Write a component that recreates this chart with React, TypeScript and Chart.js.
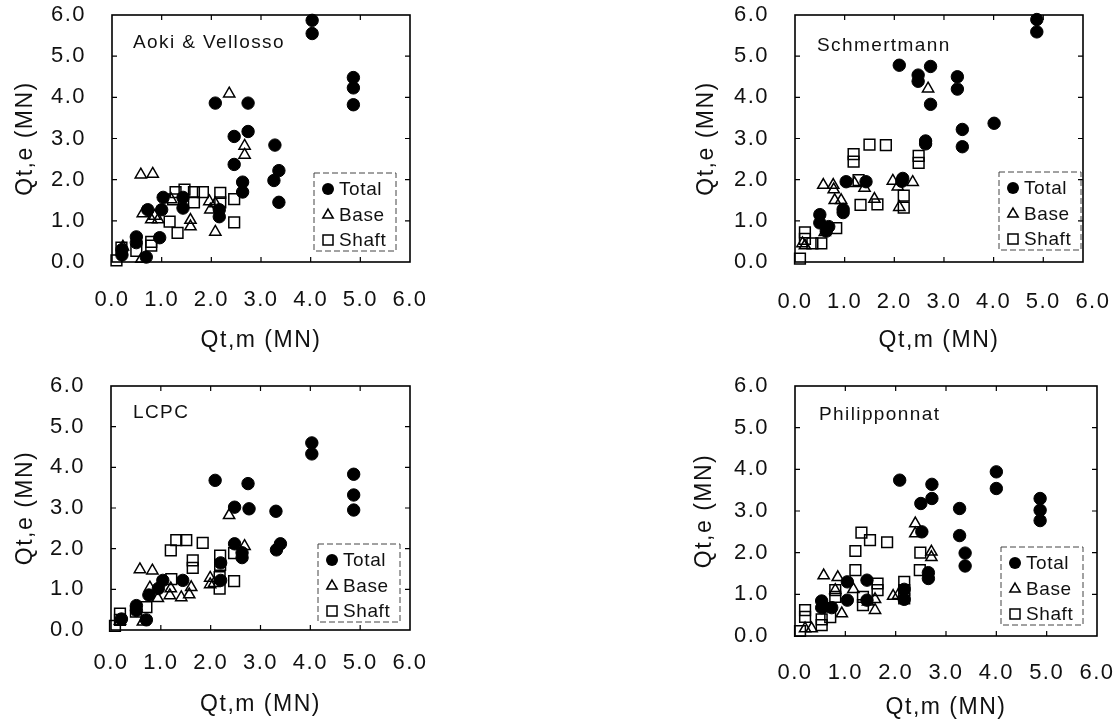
import React, { useEffect, useRef } from "react";
import { Chart, registerables } from "chart.js";

Chart.register(...registerables);

type P = [number, number];

// ---------- data ----------
const tickValues = [0, 1, 2, 3, 4, 5, 6];
const innerTickValues = [1, 2, 3, 4, 5];
const legendLabels = ["Total", "Base", "Shaft"];
const xAxisTitle = "Qt,m (MN)";
const yAxisTitle = "Qt,e (MN)";
const panelNames = ["Aoki & Vellosso", "Schmertmann", "LCPC", "Philipponnat"];

const aokiTotal: P[] = [
  [4.03, 5.87], [4.03, 5.55], [4.86, 4.48], [4.86, 4.23], [4.86, 3.82], [2.08, 3.86],
  [2.74, 3.86], [2.74, 3.17], [2.46, 3.05], [2.46, 2.37], [2.63, 1.94], [2.63, 1.7],
  [3.28, 2.84], [3.36, 2.22], [3.26, 1.98], [3.36, 1.45], [2.16, 1.27], [2.16, 1.1],
  [1.43, 1.57], [1.43, 1.31], [1.03, 1.57], [1.0, 1.27], [0.72, 1.27], [0.96, 0.59],
  [0.49, 0.61], [0.49, 0.47], [0.69, 0.12], [0.2, 0.3], [0.2, 0.17],
];
const aokiBase: P[] = [
  [2.36, 4.09], [2.67, 2.82], [2.67, 2.6], [0.58, 2.12], [0.82, 2.14], [0.62, 1.18],
  [0.79, 1.03], [0.93, 1.03], [0.86, 1.12], [1.19, 1.52], [1.58, 1.02], [1.58, 0.86],
  [2.08, 0.73], [1.96, 1.47], [1.98, 1.27], [2.08, 1.42], [0.59, 0.07], [0.22, 0.37],
];
const aokiShaft: P[] = [
  [1.46, 1.76], [1.65, 1.7], [1.83, 1.7], [1.28, 1.7], [1.23, 1.52], [1.65, 1.45],
  [2.18, 1.68], [2.18, 1.45], [2.46, 1.53], [2.46, 0.96], [1.16, 0.98], [1.32, 0.71],
  [0.79, 0.49], [0.79, 0.4], [0.49, 0.27], [0.19, 0.35], [0.09, 0.04],
];

const schTotal: P[] = [
  [4.87, 5.89], [4.87, 5.59], [2.1, 4.78], [2.48, 4.54], [2.48, 4.39], [2.73, 4.75],
  [2.73, 3.83], [3.27, 4.5], [3.27, 4.2], [3.37, 3.22], [3.37, 2.8], [4.01, 3.37],
  [2.63, 2.94], [2.63, 2.87], [2.17, 2.03], [2.15, 1.96], [1.43, 1.95], [1.03, 1.95],
  [0.97, 1.28], [0.97, 1.2], [0.5, 1.15], [0.5, 0.95], [0.68, 0.86], [0.63, 0.75],
];
const schBase: P[] = [
  [2.68, 4.21], [0.57, 1.87], [0.77, 1.87], [0.78, 1.76], [0.8, 1.5], [0.93, 1.5],
  [1.2, 1.91], [1.4, 1.8], [1.6, 1.53], [1.97, 1.97], [2.07, 1.83], [2.37, 1.94],
  [2.1, 1.33], [0.6, 0.72], [0.2, 0.4], [0.15, 0.45],
];
const schShaft: P[] = [
  [1.5, 2.85], [1.83, 2.84], [1.18, 2.62], [1.18, 2.44], [2.49, 2.58], [2.49, 2.41],
  [1.28, 1.99], [1.32, 1.39], [1.66, 1.4], [2.19, 1.61], [2.19, 1.32], [0.83, 0.82],
  [0.2, 0.72], [0.2, 0.56], [0.53, 0.45], [0.35, 0.45], [0.1, 0.08],
];

const lcpcTotal: P[] = [
  [4.03, 4.6], [4.03, 4.33], [4.87, 3.83], [4.87, 3.32], [4.87, 2.95], [2.09, 3.68],
  [2.75, 3.6], [2.48, 3.02], [2.77, 2.98], [3.31, 2.92], [2.48, 2.12], [2.63, 1.9],
  [2.63, 1.78], [3.4, 2.12], [3.32, 1.97], [2.2, 1.65], [2.2, 1.22], [1.04, 1.22],
  [1.44, 1.22], [0.95, 1.02], [0.76, 0.86], [0.51, 0.6], [0.51, 0.48], [0.71, 0.25],
  [0.21, 0.27],
];
const lcpcBase: P[] = [
  [2.37, 2.82], [0.58, 1.49], [0.83, 1.46], [2.68, 2.06], [1.99, 1.28], [1.99, 1.12],
  [2.07, 1.15], [1.61, 1.05], [1.57, 0.87], [1.41, 0.8], [1.18, 0.85], [0.78, 1.04],
  [0.94, 0.78], [1.2, 1.02], [0.64, 0.2], [0.18, 0.22],
];
const lcpcShaft: P[] = [
  [1.31, 2.21], [1.51, 2.21], [1.2, 1.96], [1.84, 2.14], [1.64, 1.71], [1.64, 1.53],
  [2.19, 1.83], [2.19, 1.6], [2.47, 1.89], [2.47, 1.2], [2.18, 1.3], [2.18, 1.02],
  [1.21, 1.25], [0.71, 0.56], [0.5, 0.45], [0.18, 0.4], [0.18, 0.25], [0.08, 0.1],
];

const phiTotal: P[] = [
  [2.08, 3.74], [2.72, 3.64], [2.72, 3.3], [2.5, 3.18], [2.52, 2.5], [3.27, 3.06],
  [3.27, 2.41], [3.38, 1.99], [3.38, 1.68], [4.0, 3.94], [4.0, 3.54], [4.87, 3.3],
  [4.87, 3.02], [4.87, 2.77], [2.65, 1.52], [2.65, 1.38], [2.17, 1.12], [2.17, 0.88],
  [1.43, 1.34], [1.43, 0.86], [1.04, 1.3], [1.04, 0.86], [0.53, 0.84], [0.53, 0.68],
  [0.73, 0.68],
];
const phiBase: P[] = [
  [2.39, 2.7], [2.39, 2.46], [2.71, 2.02], [2.71, 1.89], [0.57, 1.45], [0.85, 1.41],
  [0.8, 1.1], [1.16, 1.12], [1.59, 0.88], [1.59, 0.62], [1.95, 0.96], [2.05, 0.98],
  [0.93, 0.54], [0.2, 0.18], [0.33, 0.18], [0.6, 0.75], [1.45, 0.82],
];
const phiShaft: P[] = [
  [1.32, 2.48], [1.49, 2.3], [1.83, 2.25], [1.2, 2.04], [1.2, 1.58], [2.49, 2.0],
  [2.48, 1.58], [1.64, 1.26], [1.64, 1.1], [0.8, 1.1], [0.8, 0.94], [1.35, 0.94],
  [1.35, 0.74], [2.17, 1.3], [2.17, 1.1], [2.17, 0.9], [0.2, 0.62], [0.2, 0.46],
  [0.53, 0.4], [0.53, 0.26], [0.7, 0.45], [0.1, 0.12],
];

// ---------- layout / style ----------
const FONT = "'Liberation Sans', Arial, Helvetica, sans-serif";
const INK = "#111";

type Panel = {
  name: string;
  total: P[];
  base: P[];
  shaft: P[];
  L: number; T: number; R: number; B: number;
  xMax: number;
  padRight: number;
  xLabelPad: number;
  xTitlePad: number;
  yTitlePad: number;
  legendRight: number;
  legendBottom: number;
  noteX: number;
  noteY: number;
};

const panels: Panel[] = [
  {
    name: panelNames[0], total: aokiTotal, base: aokiBase, shaft: aokiShaft,
    L: 112, T: 15, R: 410, B: 262, xMax: 6, padRight: 20,
    xLabelPad: 25, xTitlePad: 8, yTitlePad: 12,
    legendRight: 14, legendBottom: 11, noteX: 21, noteY: 28,
  },
  {
    name: panelNames[1], total: schTotal, base: schBase, shaft: schShaft,
    L: 795, T: 15, R: 1083, B: 262, xMax: 5.8, padRight: 35,
    xLabelPad: 27, xTitlePad: 8, yTitlePad: 10,
    legendRight: 2, legendBottom: 12, noteX: 22, noteY: 31,
  },
  {
    name: panelNames[2], total: lcpcTotal, base: lcpcBase, shaft: lcpcShaft,
    L: 111, T: 386, R: 410, B: 630, xMax: 6, padRight: 20,
    xLabelPad: 20, xTitlePad: 12, yTitlePad: 13,
    legendRight: 10, legendBottom: 8, noteX: 22, noteY: 27,
  },
  {
    name: panelNames[3], total: phiTotal, base: phiBase, shaft: phiShaft,
    L: 795, T: 386, R: 1097, B: 636, xMax: 6, padRight: 20,
    xLabelPad: 24, xTitlePad: 15, yTitlePad: 8,
    legendRight: 14, legendBottom: 11, noteX: 24, noteY: 29,
  },
];

const Y_AXIS_W = 112;
const X_AXIS_H = 100;
const PAD_TOP = 15;

function drawMarker(ctx: CanvasRenderingContext2D, kind: number, x: number, y: number) {
  ctx.save();
  ctx.strokeStyle = "#000";
  ctx.fillStyle = "#000";
  ctx.lineWidth = 1.5;
  ctx.beginPath();
  if (kind === 0) {
    ctx.arc(x, y, 6, 0, Math.PI * 2);
    ctx.fill();
  } else if (kind === 1) {
    const r = 6;
    ctx.moveTo(x, y - r);
    ctx.lineTo(x + r * 0.866, y + r * 0.5);
    ctx.lineTo(x - r * 0.866, y + r * 0.5);
    ctx.closePath();
    ctx.stroke();
  } else {
    ctx.rect(x - 5, y - 5, 10, 10);
    ctx.stroke();
  }
  ctx.restore();
}

function makeDecorPlugin(p: Panel) {
  return {
    id: "decor",
    beforeDraw(chart: any) {
      (chart.ctx as any).letterSpacing = "1.5px";
    },
    afterDraw(chart: any) {
      const ctx: CanvasRenderingContext2D = chart.ctx;
      const a = chart.chartArea;
      const xs = chart.scales.x;
      const ys = chart.scales.y;
      ctx.save();
      (ctx as any).letterSpacing = "0px";
      // frame
      ctx.strokeStyle = "#000";
      ctx.lineWidth = 1.6;
      ctx.strokeRect(a.left, a.top, a.right - a.left, a.bottom - a.top);
      // inner ticks
      ctx.lineWidth = 1.2;
      ctx.beginPath();
      innerTickValues.forEach((v) => {
        const px = xs.getPixelForValue(v);
        if (px < a.right - 1) {
          ctx.moveTo(px, a.bottom);
          ctx.lineTo(px, a.bottom - 5);
          ctx.moveTo(px, a.top);
          ctx.lineTo(px, a.top + 5);
        }
        const py = ys.getPixelForValue(v);
        ctx.moveTo(a.left, py);
        ctx.lineTo(a.left + 5, py);
        ctx.moveTo(a.right, py);
        ctx.lineTo(a.right - 5, py);
      });
      ctx.stroke();

      // method name
      (ctx as any).letterSpacing = "1.4px";
      ctx.fillStyle = INK;
      ctx.font = `19px ${FONT}`;
      ctx.textAlign = "left";
      ctx.textBaseline = "middle";
      ctx.fillText(p.name, a.left + p.noteX, a.top + p.noteY);

      // legend box
      const bw = 82;
      const bh = 78;
      const bx = a.right - p.legendRight - bw;
      const by = a.bottom - p.legendBottom - bh;
      ctx.setLineDash([6, 3]);
      ctx.lineWidth = 1;
      ctx.strokeStyle = "#444";
      ctx.strokeRect(bx, by, bw, bh);
      ctx.setLineDash([]);
      (ctx as any).letterSpacing = "0.6px";
      ctx.font = `19px ${FONT}`;
      ctx.fillStyle = INK;
      const rows = [16, 42, 67];
      legendLabels.forEach((lab, i) => {
        drawMarker(ctx, i, bx + 14, by + rows[i]);
        ctx.fillText(lab, bx + 25, by + rows[i] + 1);
      });
      ctx.restore();
    },
  };
}

function PanelChart({ p }: { p: Panel }) {
  const ref = useRef<HTMLCanvasElement | null>(null);
  const left = p.L - Y_AXIS_W;
  const top = p.T - PAD_TOP;
  const width = p.R - p.L + Y_AXIS_W + p.padRight;
  const height = p.B - p.T + PAD_TOP + X_AXIS_H;

  useEffect(() => {
    if (!ref.current) return;
    const toPts = (arr: P[]) => arr.map(([x, y]) => ({ x, y }));
    const chart = new Chart(ref.current, {
      type: "scatter",
      data: {
        datasets: [
          {
            label: legendLabels[0],
            data: toPts(p.total),
            pointStyle: "circle",
            pointRadius: 6.2,
            pointHoverRadius: 6.2,
            pointBackgroundColor: "#000",
            pointBorderColor: "#000",
            pointBorderWidth: 1,
            clip: false,
          },
          {
            label: legendLabels[1],
            data: toPts(p.base),
            pointStyle: "triangle",
            pointRadius: 6.5,
            pointHoverRadius: 6.5,
            pointBackgroundColor: "rgba(255,255,255,0)",
            pointBorderColor: "#000",
            pointBorderWidth: 1.5,
            clip: false,
          },
          {
            label: legendLabels[2],
            data: toPts(p.shaft),
            pointStyle: "rect",
            pointRadius: 7.6,
            pointHoverRadius: 7.6,
            pointBackgroundColor: "rgba(255,255,255,0)",
            pointBorderColor: "#000",
            pointBorderWidth: 1.5,
            clip: false,
          },
        ],
      } as any,
      options: {
        responsive: false,
        animation: false,
        devicePixelRatio: 1,
        events: [],
        layout: { autoPadding: false, padding: { left: 0, top: PAD_TOP, right: p.padRight, bottom: 0 } },
        plugins: { legend: { display: false }, tooltip: { enabled: false } },
        scales: {
          x: {
            type: "linear",
            position: "bottom",
            min: 0,
            max: p.xMax,
            grid: { display: false, drawTicks: false },
            border: { display: false },
            afterBuildTicks: (s: any) => {
              s.ticks = tickValues.map((v) => ({ value: v }));
            },
            afterFit: (s: any) => {
              s.height = X_AXIS_H;
              s.paddingLeft = 0;
              s.paddingRight = 0;
              s.paddingTop = 0;
              s.paddingBottom = 0;
            },
            ticks: {
              autoSkip: false,
              maxRotation: 0,
              padding: p.xLabelPad,
              color: INK,
              font: { family: FONT, size: 22 },
              callback: (v: any) => Number(v).toFixed(1),
            },
            title: {
              display: true,
              text: xAxisTitle,
              color: INK,
              font: { family: FONT, size: 23 },
              padding: { top: 0, bottom: p.xTitlePad },
            },
          },
          y: {
            type: "linear",
            position: "left",
            min: 0,
            max: 6,
            grid: { display: false, drawTicks: false },
            border: { display: false },
            afterBuildTicks: (s: any) => {
              s.ticks = tickValues.map((v) => ({ value: v }));
            },
            afterFit: (s: any) => {
              s.width = Y_AXIS_W;
              s.paddingLeft = 0;
              s.paddingRight = 0;
              s.paddingTop = 0;
              s.paddingBottom = 0;
            },
            ticks: {
              autoSkip: false,
              padding: 26,
              color: INK,
              font: { family: FONT, size: 22 },
              callback: (v: any) => Number(v).toFixed(1),
            },
            title: {
              display: true,
              text: yAxisTitle,
              color: INK,
              font: { family: FONT, size: 23 },
              padding: { top: p.yTitlePad, bottom: 0 },
            },
          },
        },
      } as any,
      plugins: [makeDecorPlugin(p)],
    });
    return () => chart.destroy();
  }, [p]);

  return (
    <canvas
      ref={ref}
      width={width}
      height={height}
      style={{ position: "absolute", left, top, width, height }}
    />
  );
}

export default function App() {
  return (
    <div
      style={{
        position: "absolute",
        left: 0,
        top: 0,
        width: 1120,
        height: 722,
        overflow: "hidden",
        background: "#fff",
      }}
    >
      {panels.map((p) => (
        <PanelChart key={p.name} p={p} />
      ))}
    </div>
  );
}
